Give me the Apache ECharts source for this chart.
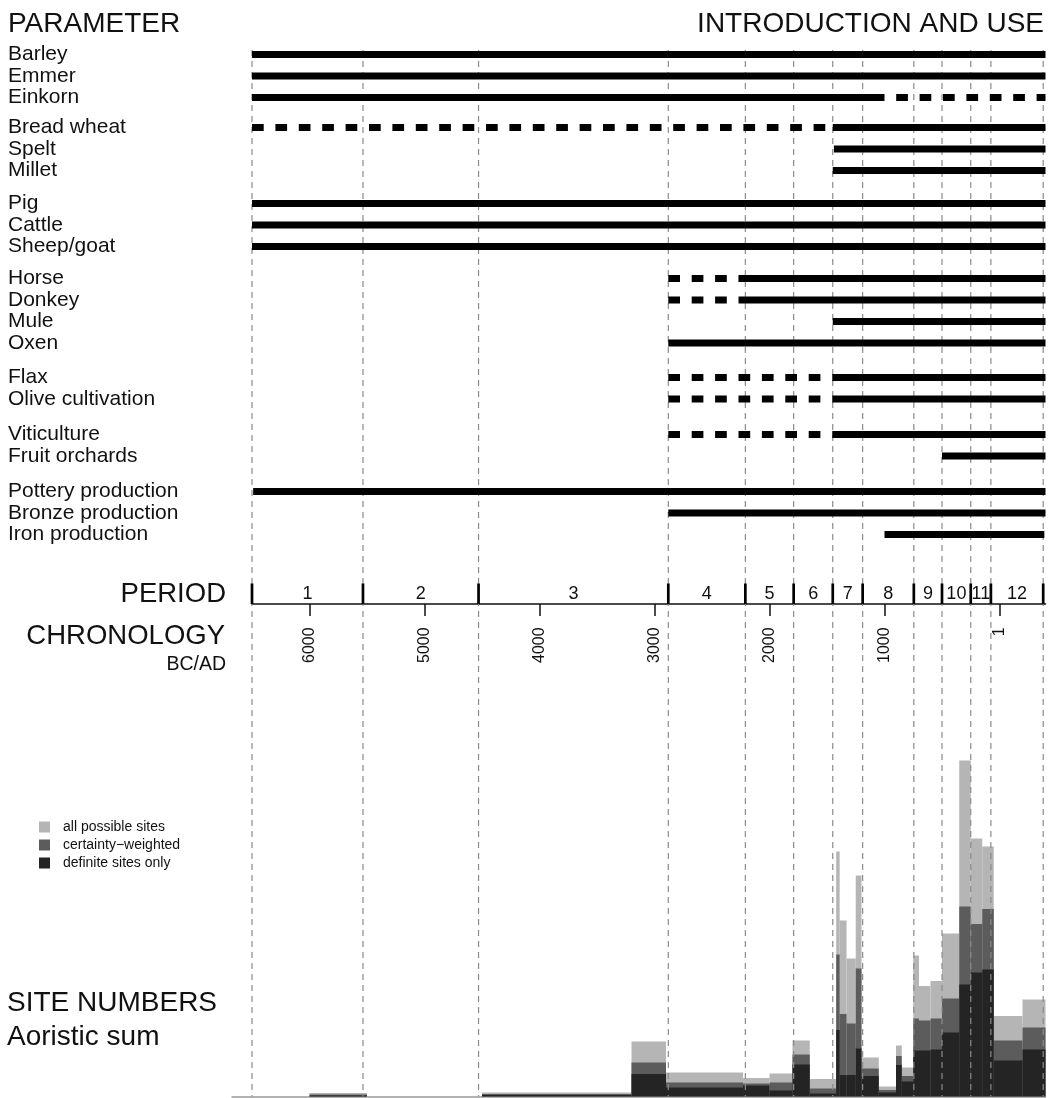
<!DOCTYPE html>
<html><head><meta charset="utf-8">
<script src="https://cdn.jsdelivr.net/npm/echarts@6/dist/echarts.min.js"></script>
<style>html,body{margin:0;padding:0;background:#fff}#c{width:1054px;height:1098px}</style>
</head><body><div id="c"></div>
<script>
const FONT = '"Liberation Sans", Arial, Helvetica, sans-serif';

// ---- PARAMETER rows ----
const paramNames = ['Barley','Emmer','Einkorn','Bread wheat','Spelt','Millet','Pig','Cattle','Sheep/goat',
  'Horse','Donkey','Mule','Oxen','Flax','Olive cultivation','Viticulture','Fruit orchards',
  'Pottery production','Bronze production','Iron production'];
const paramGroups = [0,0,0,1,1,1,2,2,2,3,3,3,3,4,4,5,5,6,6,6];
// [row, startYear, endYear, certain (1 = solid, 0 = dashed)]
const useSegments = [
  [0,-6500,400,1],
  [1,-6500,400,1],
  [2,-6500,-1000,1],[2,-1000,400,0],
  [3,-6500,-1450,0],[3,-1450,400,1],
  [4,-1440,400,1],
  [5,-1450,400,1],
  [6,-6500,400,1],
  [7,-6500,400,1],
  [8,-6500,400,1],
  [9,-2880,-2270,0],[9,-2270,400,1],
  [10,-2880,-2265,0],[10,-2265,400,1],
  [11,-1450,400,1],
  [12,-2880,400,1],
  [13,-2880,-1450,0],[13,-1450,400,1],
  [14,-2880,-1450,0],[14,-1450,400,1],
  [15,-2880,-1450,0],[15,-1450,400,1],
  [16,-500,400,1],
  [17,-6490,400,1],
  [18,-2880,400,1],
  [19,-1000,390,1]
];

// ---- PERIOD / CHRONOLOGY ----
const periodBounds = [-6500,-5535,-4530,-2880,-2210,-1790,-1450,-1190,-745,-500,-250,-75,380];
const periodLabels = ['1','2','3','4','5','6','7','8','9','10','11','12'];
const chronoTicks = [-6000,-5000,-4000,-3000,-2000,-1000,1];

// ---- SITE NUMBERS (aoristic sum) ----
const binStart = [-6000,-4500,-3200,-2900,-2230,-2000,-1800,-1650,-1420,-1390,-1330,-1250,-1200,-1050,-900,-850,-750,-700,-600,-500,-350,-250,-150,-50,200];
const binEnd   = [-5500,-3200,-2900,-2230,-2000,-1800,-1650,-1420,-1390,-1330,-1250,-1200,-1050,-900,-850,-750,-700,-600,-500,-350,-250,-150,-50,200,400];
const allSites      = [0.35,0.4,5.5,2.4,1.85,2.3,5.6,1.75,24.5,17.6,13.8,22.1,3.9,1.0,5.1,2.9,14.1,11.05,11.55,16.3,33.6,25.8,25.0,8.05,9.7];
const weightedSites = [0.2,0.25,3.4,1.4,1.3,1.4,4.2,0.8,14.2,8.25,7.3,12.8,2.8,0.65,4.05,2.05,7.8,7.6,7.8,9.8,19.0,17.25,18.75,5.6,6.9];
const definiteSites = [0.1,0.15,2.25,0.9,1.1,0.6,3.2,0.3,6.65,2.15,2.15,4.8,2.05,0.4,3.15,1.5,4.6,4.6,4.7,6.4,11.2,12.4,12.7,3.6,4.7];
const seriesNames = ['all possible sites','certainty\u2212weighted','definite sites only'];
const seriesColors = ['#b5b5b5','#5c5c5c','#242424'];

// ---- layout helpers ----
const GROUP_GAPS = [0, 0.40, 0.53, 0.49, 0.60, 0.66, 0.65]; // extra space before each group (row units)
const ROW_PX = 21.5;
const groupOffset = g => GROUP_GAPS.slice(0, g + 1).reduce((a, b) => a + b, 0);
const rowPos = i => i + groupOffset(paramGroups[i]);
const rowMax = rowPos(paramNames.length - 1);
const DASH = [11.7, 11.7];

const segData = useSegments.map(s => {
  const afterSolid = useSegments.some(t => t[0] === s[0] && t[3] === 1 && t[2] === s[1]);
  return [s[1], s[2], rowPos(s[0]), s[3], (s[3] === 0 && afterSolid) ? 1 : 0];
});
const labelData = paramNames.map((n, i) => [-6500, rowPos(i), n]);
const periodMid = periodLabels.map((l, i) => [(periodBounds[i] + periodBounds[i + 1]) / 2, 0.5, l]);
const histData = vals => binStart.map((s, i) => [s, binEnd[i], vals[i]]);

const chart = echarts.init(document.getElementById('c'), null, {renderer: 'canvas'});

function histRender(params, api) {
  const p0 = api.coord([api.value(0), 0]);
  const p1 = api.coord([api.value(1), api.value(2)]);
  return {type: 'rect', shape: {x: p0[0], y: p1[1], width: p1[0] - p0[0], height: p0[1] - p1[1]},
    style: {fill: api.visual('color')}};
}

const bigText = (text, x, y, align, size) => ({
  type: 'text', x: x, y: y,
  style: {text: text, fill: '#111', fontSize: size || 28, fontFamily: FONT, align: align, verticalAlign: 'middle'}
});

const option = {
  backgroundColor: '#fff',
  animation: false,
  grid: [
    {left: 252, width: 793.5, top: 54.5, height: rowMax * ROW_PX},
    {left: 252, width: 793.5, top: 583.5, height: 20.5},
    {left: 232, width: 813.5, top: 746.5, height: 350},
    {left: 252, width: 793.5, top: 50, height: 1046.5}
  ],
  xAxis: [
    {gridIndex: 0, type: 'value', min: -6500, max: 400, show: false},
    {gridIndex: 1, type: 'value', min: -6500, max: 400, offset: 8.4,
      axisLine: {show: true, lineStyle: {color: '#111', width: 1.5}},
      axisTick: {show: true, length: 12, lineStyle: {color: '#111', width: 1.5}, customValues: chronoTicks},
      axisLabel: {show: true, customValues: chronoTicks, rotate: 90, margin: 15, fontSize: 16, fontFamily: FONT, color: '#111',
        formatter: v => String(Math.abs(v))},
      splitLine: {show: false}},
    {gridIndex: 2, type: 'value', min: -6674, max: 400,
      axisLine: {show: true, lineStyle: {color: '#999', width: 1.5}},
      axisTick: {show: false}, axisLabel: {show: false}, splitLine: {show: false}},
    {gridIndex: 3, type: 'value', min: -6500, max: 400, show: false}
  ],
  yAxis: [
    {gridIndex: 0, type: 'value', min: 0, max: rowMax, inverse: true, show: false},
    {gridIndex: 1, type: 'value', min: 0, max: 1, show: false},
    {gridIndex: 2, type: 'value', min: 0, max: 35, show: false},
    {gridIndex: 3, type: 'value', min: 0, max: 1, show: false}
  ],
  legend: {
    data: seriesNames, orient: 'vertical', left: 39, top: 820, padding: 0,
    icon: 'rect', itemWidth: 11, itemHeight: 11, itemGap: 4,
    selectedMode: false,
    textStyle: {fontSize: 14, fontFamily: FONT, color: '#111', lineHeight: 14, padding: [0, 0, 0, 8]}
  },
  graphic: [
    bigText('PARAMETER', 8, 24, 'left'),
    bigText('INTRODUCTION AND USE', 1044, 24, 'right'),
    bigText('PERIOD', 226, 594, 'right', 27.5),
    bigText('CHRONOLOGY', 225, 636, 'right', 27.5),
    bigText('BC/AD', 226, 665, 'right', 19.5),
    bigText('SITE NUMBERS', 7, 1003, 'left', 28),
    bigText('Aoristic sum', 7, 1037, 'left', 28)
  ],
  series: [
    // histogram layers (drawn back to front)
    {type: 'custom', name: seriesNames[0], xAxisIndex: 2, yAxisIndex: 2, z: 1, itemStyle: {color: seriesColors[0]},
      renderItem: histRender, data: histData(allSites), encode: {x: [0, 1], y: 2}},
    {type: 'custom', name: seriesNames[1], xAxisIndex: 2, yAxisIndex: 2, z: 1, itemStyle: {color: seriesColors[1]},
      renderItem: histRender, data: histData(weightedSites), encode: {x: [0, 1], y: 2}},
    {type: 'custom', name: seriesNames[2], xAxisIndex: 2, yAxisIndex: 2, z: 1, itemStyle: {color: seriesColors[2]},
      renderItem: histRender, data: histData(definiteSites), encode: {x: [0, 1], y: 2}},
    // dashed period boundary lines over the whole figure
    {type: 'custom', xAxisIndex: 3, yAxisIndex: 3, z: 2, silent: true,
      data: periodBounds.map(b => [b]),
      renderItem: (params, api) => {
        const a = api.coord([api.value(0), 1]);
        const b = api.coord([api.value(0), 0]);
        return {type: 'line', shape: {x1: a[0], y1: a[1], x2: b[0], y2: b[1]},
          style: {stroke: '#8a8a8a', lineWidth: 1.2, lineDash: [6, 5]}};
      }},
    // introduction and use bars
    {type: 'custom', xAxisIndex: 0, yAxisIndex: 0, z: 3, silent: true,
      data: segData,
      renderItem: (params, api) => {
        const a = api.coord([api.value(0), api.value(2)]);
        const b = api.coord([api.value(1), api.value(2)]);
        const dashed = api.value(3) === 0;
        return {type: 'line', shape: {x1: a[0], y1: a[1], x2: b[0], y2: b[1]},
          style: {stroke: '#000', lineWidth: 7, lineCap: 'butt',
            lineDash: dashed ? DASH : null, lineDashOffset: api.value(4) ? DASH[0] : 0}};
      }},
    // row labels
    {type: 'custom', xAxisIndex: 0, yAxisIndex: 0, z: 3, silent: true,
      data: labelData,
      renderItem: (params, api) => {
        const p = api.coord([api.value(0), api.value(1)]);
        return {type: 'text', x: 8, y: p[1],
          style: {text: paramNames[params.dataIndex], fill: '#111', fontSize: 21, fontFamily: FONT,
            align: 'left', verticalAlign: 'middle'}};
      }},
    // period boundary marks
    {type: 'custom', xAxisIndex: 1, yAxisIndex: 1, z: 3, silent: true,
      data: periodBounds.map(b => [b]),
      renderItem: (params, api) => {
        const a = api.coord([api.value(0), 1]);
        const b = api.coord([api.value(0), 0]);
        return {type: 'line', shape: {x1: a[0], y1: a[1], x2: b[0], y2: b[1]},
          style: {stroke: '#000', lineWidth: 2.7}};
      }},
    // period numbers
    {type: 'custom', xAxisIndex: 1, yAxisIndex: 1, z: 3, silent: true,
      data: periodMid,
      renderItem: (params, api) => {
        const p = api.coord([api.value(0), api.value(1)]);
        return {type: 'text', x: p[0], y: p[1],
          style: {text: periodLabels[params.dataIndex], fill: '#111', fontSize: 18, fontFamily: FONT,
            align: 'center', verticalAlign: 'middle'}};
      }}
  ]
};
chart.setOption(option);
</script>
</body></html>
